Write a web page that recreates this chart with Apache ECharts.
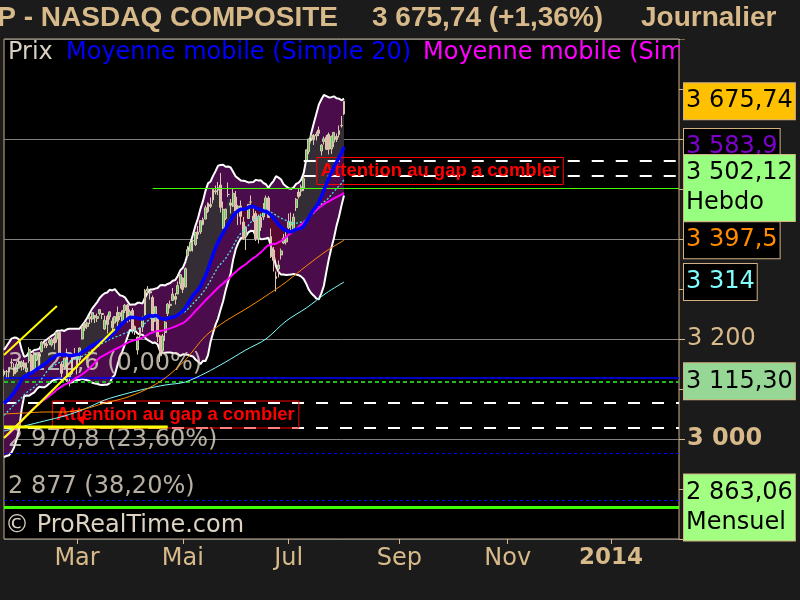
<!DOCTYPE html>
<html><head><meta charset="utf-8">
<script src="https://cdn.jsdelivr.net/npm/echarts/dist/echarts.min.js"></script>
<style>html,body{margin:0;padding:0;background:#1b1b1b;}#c{width:800px;height:600px;}</style>
</head><body><div id="c"></div>
<script>
// ---------- DATA ----------
const firstDay = '2013-01-17', lastDay = '2014-02-11';
const holidays = ['2013-01-21','2013-02-18','2013-03-29','2013-05-27','2013-07-04','2013-09-02','2013-11-28','2013-12-25','2014-01-01','2014-01-20'];
const tickMonths = {'2013-03':'Mar','2013-05':'Mai','2013-07':'Jul','2013-09':'Sep','2013-11':'Nov','2014-01':'2014'};

// closes before the visible window (Nov 1 2012 .. Jan 16 2013), used for the moving averages
const priorClose = [3020.06,2982.13,2999.66,3011.93,2937.29,2895.58,2904.87,2904.25,2883.89,2846.81,2836.94,2853.13,2916.07,2916.68,2926.55,2966.85,2976.78,2967.79,2991.78,3012.03,3010.24,
 3002.20,2996.69,2973.70,2989.27,2978.04,2986.96,3022.30,3013.81,2992.16,2971.33,3010.60,3054.53,3044.36,3050.39,3021.01,3012.60,2990.16,2985.91,2960.31,3019.51,
 3112.26,3100.57,3101.66,3098.81,3091.81,3105.81,3121.76,3125.63,3117.50,3110.78,3117.54];

// visible daily candles, Jan 17 2013 .. Aug 1 2013
const open = [3129,3134,3133.5,3152,3143.5,3135,3152,3145,3152,3135,
 3157,3168,3140,3158,3170,3175,3190,3190,3192,3188,3202,3200,3213,3150,3144,3172,3124,3131,3165,
 3143,3159,3200,3231,3225,3240,3240,3247,3241,3251,3251,3220,3245,3245,3236,3232,3253,3245,3236,3257,
 3268,3247,3257,3218,3178,3206,3224,3248,3296,3292,3283,3236,3245,3206,3177,3213,3251,3267,3277,3285,3290,3310,
 3322,3304,3367,3377,3397,3389,3414,3414,3429,3440,3455,3469,3478,3494,3498,3508,3422,3441,3489,3472,3466,3484,
 3458,3466,3434,3405,3441,3474,3446,3451,3400,3443,3444,3455,3482,3405,3378,3325,3340,3368,3392,3394,
 3423,3428,3418,3463,3494,3496,3502,3557,3575,3602,3607,3606,3618,3576,3595,3604,3609,3580,3594,3605,3609,3627,
 3650];
const high = [3139.4,3138,3143.2,3160.8,3151.5,3154.6,3163,3157,3158,3153,
 3183.7,3170,3174,3172,3173,3196,3194,3195,3206,3202,3205,3213.6,3214,3155,3162,3181,3131,3171,3182,
 3171,3183,3227,3233,3235,3248,3253,3248,3251,3259,3252,3247,3249,3256,3243,3245,3265,3253,3258,3270,
 3270,3259,3262,3227,3205,3223,3245,3300,3306,3295,3287,3265,3248,3208,3210,3236,3272,3277,3302,3292,3315,3329,
 3323,3343,3386,3395,3399,3414,3426,3437,3443,3467,3473,3483,3499,3507,3514,3532,3475,3461,3513,3480,3502,3496,
 3468,3477,3444,3425,3470,3487,3466,3456,3449,3451,3472,3487,3486,3421,3384,3335,3357,3381,3410,3418,
 3451,3453,3451,3482,3502,3509,3526,3578.5,3600.1,3611,3610,3615,3625,3590,3605,3608,3613,3607,3614,3611,3627,3646,
 3676];
const low = [3125.3,3120.4,3121.3,3143.3,3126,3133,3146,3137,3138,3133,
 3152,3130,3138,3156,3145,3173,3182,3182,3188,3185,3179,3193,3164,3120,3140,3116,3105,3128,3159,
 3129,3154,3199,3216,3220,3230,3233,3232,3234,3247,3240,3218,3211,3239,3218,3231,3225,3238,3234,3252,
 3233,3235,3211,3208,3169,3199,3214,3247,3290,3279,3216,3234,3194,3154,3175,3196,3246,3261,3276,3269,3290,3301,
 3292,3303,3365,3375,3375,3386,3400,3410,3427,3439,3452,3462,3471,3489,3488,3453,3420,3438,3484,3451,3464,3455,
 3428,3429,3398,3378,3440,3468,3434,3396,3391,3416,3438,3453,3442,3362,3335,3295,3323,3359,3390,3389,
 3420,3414,3416,3456,3481,3486,3496,3556,3570,3596,3588,3597,3606,3567,3589,3578,3569,3570,3584,3594,3603,3623,
 3648];
const close = [3136.00,3134.71,3143.18,3153.67,3130.38,3149.71,3154.30,3153.66,3142.31,3142.13,
 3179.10,3131.17,3171.58,3168.48,3165.13,3193.87,3192.00,3186.49,3196.88,3198.66,3192.03,3213.59,3164.41,3131.49,3161.82,3116.25,3129.65,3162.26,3160.19,
 3169.74,3182.03,3224.13,3222.37,3232.09,3244.37,3252.87,3242.32,3245.12,3258.93,3249.07,3237.59,3229.10,3254.19,3222.60,3245.00,3235.30,3252.48,3256.52,3267.52,
 3239.17,3254.86,3218.60,3224.98,3203.86,3222.25,3237.86,3297.25,3300.16,3294.95,3216.49,3264.63,3204.67,3166.36,3206.06,3233.55,3269.65,3269.33,3289.99,3279.26,3307.02,3328.79,
 3299.13,3340.62,3378.63,3392.97,3396.63,3413.27,3409.17,3436.58,3438.79,3462.61,3471.62,3465.24,3498.97,3496.43,3502.12,3463.30,3459.14,3459.42,3488.89,3467.52,3491.30,3455.91,
 3465.37,3445.26,3401.48,3424.05,3469.22,3473.77,3436.95,3400.43,3445.37,3423.56,3452.13,3482.18,3443.20,3364.64,3357.25,3320.76,3347.89,3376.22,3401.86,3403.25,
 3434.49,3433.40,3443.67,3479.38,3484.83,3504.26,3520.76,3578.30,3600.08,3607.49,3598.50,3610.00,3611.28,3587.61,3600.39,3579.27,3579.60,3605.19,3613.16,3599.14,3616.47,3626.37,
 3675.74];

// long moving averages (sample dates)
const maSampleDates = ['2013-01-17','2013-01-30','2013-02-11','2013-02-22','2013-03-06','2013-03-18','2013-03-28','2013-04-10','2013-04-22','2013-05-02','2013-05-14','2013-05-24','2013-06-06','2013-06-18','2013-06-28','2013-07-11','2013-07-23','2013-08-01'];
const ma100Values = [3050,3052,3054,3054,3060,3072,3082,3098,3122,3158,3206,3236,3260,3286,3314,3346,3376,3397.5];
const ma200Values = [3016,3026,3036,3046,3060,3078,3090,3100,3108,3114,3132,3154,3178,3200,3236,3262,3292,3314];

// levels & drawings
const fibValues = [3122.6, 2970.8, 2877];
const fibLabels = ['3 122,6 (0,00%)', '2 970,8 (23,60%)', '2 877 (38,20%)'];
const weeklyLevel = 3502.12, weeklyFrom = '2013-04-15';
const level3115 = 3115.30;
const monthlyLevel = 2863.06;
const gapUpper = [3556, 3526], gapUpperFrom = '2013-07-10';
const gapLower = [3073, 3023];
const gapText = 'Attention au gap a combler';
const gapNotes = [['2013-07-17', 3536], ['2013-02-14', 3049]];
const trendA = [['2013-01-17',3168],['2013-02-19',3266]];
const trendB = [['2013-01-17',3002],['2013-03-22',3220]];
const trendFlat = [['2013-01-17',3024],['2013-04-23',3024]];

// ---------- HELPERS ----------
function buildDays(from, to, hol){
  const out=[], h=new Set(hol);
  const a=from.split('-').map(Number), b=to.split('-').map(Number);
  let t=Date.UTC(a[0],a[1]-1,a[2]); const end=Date.UTC(b[0],b[1]-1,b[2]);
  while(t<=end){ const d=new Date(t), wd=d.getUTCDay(), s=d.toISOString().slice(0,10);
    if(wd!==0&&wd!==6&&!h.has(s)) out.push(s); t+=86400000; }
  return out;
}
function fr(v,d){ const s=v.toFixed(d).split('.'); const i=s[0].replace(/\B(?=(\d{3})+(?!\d))/g,' '); return s.length>1? i+','+s[1] : i; }

const days = buildDays(firstDay, lastDay, holidays);
const tickSet = new Set();
Object.keys(tickMonths).forEach(m=>{ const d=days.find(x=>x.slice(0,7)===m); if(d) tickSet.add(d); });

const allClose = priorClose.concat(close);
const P = priorClose.length;
function sma(n){ return close.map((_,k)=>{ const g=k+P; let s=0; for(let j=g-n+1;j<=g;j++) s+=allClose[j]; return s/n; }); }
const ma20 = sma(20), ma30 = sma(30), ma50 = sma(50);
const bbUp=[], bbLo=[];
close.forEach((_,k)=>{ const g=k+P; let s=0; for(let j=g-19;j<=g;j++) s+=(allClose[j]-ma20[k])**2; const sd=Math.sqrt(s/20); bbUp.push(ma20[k]+2*sd); bbLo.push(ma20[k]-2*sd); });
const fillBase = close.map((c,k)=>Math.min(c,ma20[k]));
const fillUp = close.map((c,k)=>c>ma20[k]? c-ma20[k] : 0);
const fillDown = close.map((c,k)=>c<ma20[k]? ma20[k]-c : 0);
const bbWidth = bbUp.map((u,k)=>u-bbLo[k]);
const candleData = open.map((o,k)=>[o, close[k], low[k], high[k]]);
const pairs = (vals)=>maSampleDates.map((d,i)=>[d, vals[i]]);
const idxOf = (pts)=>pts.map(p=>[days.indexOf(p[0]), p[1]]);

const last = close.length-1;
const pct = (close[last]-close[last-1])/close[last-1]*100;

// ---------- STYLE ----------
const BEIGE = '#d8b98a', BOXB = '#d2b283';
const FONT = '"DejaVu Sans", Verdana, sans-serif';
const TFONT = '"Liberation Sans", Arial, sans-serif';
const FIBTXT = 'rgba(222,214,198,0.82)';
const noLine = {opacity:0};
const hidden = {color:'rgba(0,0,0,0)', width:1};
function box(text, color, bg){
  return {show:true, position:'end', distance:5, formatter:text, color:color, backgroundColor:bg, borderColor:BOXB, borderWidth:1,
          padding:[3,2,3,2], fontSize:24, fontFamily:FONT, lineHeight:30};
}
function yellow(name, pts, w){
  return {name:name, type:'line', z:9, data:idxOf(pts), symbol:'none', silent:true, lineStyle:{color:'#ffff00', width:w}};
}

const chart = echarts.init(document.getElementById('c'));
const option = {
  backgroundColor:'#1b1b1b',
  animation:false,
  grid:{left:4, top:39, width:675, height:500, show:true, backgroundColor:'#000', borderColor:'#cfb083', borderWidth:1},
  xAxis:{type:'category', data:days, boundaryGap:false,
    axisLine:{show:false},
    axisTick:{show:true, interval:(i,v)=>tickSet.has(v), length:5, lineStyle:{color:BEIGE}},
    axisLabel:{interval:(i,v)=>tickSet.has(v), margin:8, color:BEIGE, fontSize:24, fontFamily:FONT,
      formatter:(v)=>{ const l=tickMonths[v.slice(0,7)]; return l==='2014' ? '{b|2014}' : l; },
      rich:{b:{fontWeight:'bold', fontSize:23, fontFamily:FONT, color:BEIGE}}},
    splitLine:{show:false}},
  yAxis:{type:'value', position:'right', min:2800, max:3800, interval:100,
    axisLine:{show:false},
    axisTick:{show:true, length:6, lineStyle:{color:BEIGE}},
    axisLabel:{margin:8, color:BEIGE, fontSize:24, fontFamily:FONT,
      formatter:(v)=> v===3200 ? '3 200' : (v===3000 ? '{b|3 000}' : ''),
      rich:{b:{fontWeight:'bold', fontSize:24, fontFamily:FONT, color:BEIGE}}},
    splitLine:{show:true, lineStyle:{color:['#808080','rgba(0,0,0,0)'], width:1}}},
  series:[
    {name:'bbLo', type:'line', z:1, data:bbLo, stack:'bb', symbol:'none', lineStyle:noLine, silent:true},
    {name:'bbBand', type:'line', z:1, data:bbWidth, stack:'bb', symbol:'none', lineStyle:noLine, areaStyle:{color:'#4b0c4b', opacity:1}, silent:true},
    {name:'fillBase', type:'line', z:2, data:fillBase, stack:'fill', symbol:'none', lineStyle:noLine, silent:true},
    {name:'fillUp', type:'line', z:2, data:fillUp, stack:'fill', symbol:'none', lineStyle:noLine, areaStyle:{color:'#352d35', opacity:1}, silent:true},
    {name:'fillDown', type:'line', z:2, data:fillDown, stack:'fill', symbol:'none', lineStyle:noLine, areaStyle:{color:'#5a0a30', opacity:1}, silent:true},
    {name:'bbUpLine', type:'line', z:3, data:bbUp, symbol:'none', lineStyle:{color:'#ffffff', width:2}, silent:true},
    {name:'bbLoLine', type:'line', z:3, data:bbLo, symbol:'none', lineStyle:{color:'#ffffff', width:2}, silent:true},
    {name:'Prix', type:'candlestick', z:4, data:candleData, barWidth:2.4,
      itemStyle:{color:'#55cc55', color0:'#e8b4aa', borderColor:'#d8c8b0', borderColor0:'#d8c8b0', borderWidth:1}},
    {name:'MA200', type:'line', z:5, data:pairs(ma200Values), symbol:'none', smooth:0.3, lineStyle:{color:'#80ffff', width:1}},
    {name:'MA100', type:'line', z:5, data:pairs(ma100Values), symbol:'none', smooth:0.3, lineStyle:{color:'#ff8c00', width:1}},
    {name:'MA30', type:'line', z:5, data:ma30, symbol:'none', lineStyle:{color:'#40e8e8', width:1.3, type:[2,2]}},
    {name:'MA50', type:'line', z:5, data:ma50, symbol:'none', lineStyle:{color:'#ff00ff', width:2}},
    {name:'MA20', type:'line', z:5, data:ma20, symbol:'none', lineStyle:{color:'#0000ff', width:3.5}},
    {name:'drawings', type:'line', z:6, data:[], silent:true,
      markLine:{silent:true, symbol:['none','none'], animation:false, label:{show:false},
        data:[
          ...fibValues.map((v,i)=>({yAxis:v, lineStyle:{color:'#0000ff', width:i===0?1.5:1, type:i===0?'solid':[3,3]},
              label:{show:true, position:'insideStartTop', distance:[4,2], formatter:fibLabels[i], color:FIBTXT, fontSize:24, fontFamily:FONT}})),
          ...gapLower.map(v=>({yAxis:v, lineStyle:{color:'#ffffff', width:2, type:[12,12]}})),
          ...gapUpper.map(v=>[{coord:[gapUpperFrom, v], lineStyle:{color:'#ffffff', width:2, type:[12,12]}}, {coord:[lastDay, v]}])
        ]},
      markPoint:{silent:true, animation:false,
        data:[
          ...gapNotes.map(n=>({coord:n, symbol:'rect', symbolSize:1, itemStyle:{color:'rgba(0,0,0,0)'},
            label:{show:true, position:'right', distance:0, formatter:gapText, color:'#ff0000', fontWeight:'bold', fontSize:18.5,
              fontFamily:TFONT, borderColor:'#ff0000', borderWidth:1, padding:[3,4,4,4], lineHeight:20}})),
          {coord:['2013-03-05', 3036], symbol:'triangle', symbolSize:[8,9], symbolRotate:200, itemStyle:{color:'#ff0000'}, label:{show:false}}
        ]}},
    yellow('trendA', trendA, 2),
    yellow('trendB', trendB, 2.2),
    yellow('trendFlat', trendFlat, 3),
    {name:'boxLow', type:'line', z:10, data:[], clip:false, silent:true,
      markLine:{silent:true, symbol:['none','none'], animation:false,
        data:[
          {yAxis:ma20[last], lineStyle:hidden, label:box(fr(ma20[last],1), '#7f00cc', '#000')},
          {yAxis:ma100Values[ma100Values.length-1], lineStyle:hidden, label:box(fr(ma100Values[ma100Values.length-1],1), '#ff8c00', '#000')},
          {yAxis:ma200Values[ma200Values.length-1], lineStyle:hidden, label:box(fr(ma200Values[ma200Values.length-1],0), '#80ffff', '#000')},
          {yAxis:close[last], lineStyle:hidden, label:box(fr(close[last],2), '#000', '#ffc000')}
        ]}},
    {name:'boxHigh', type:'line', z:11, data:[], clip:false, silent:true,
      markLine:{silent:true, symbol:['none','none'], animation:false,
        data:[
          [{coord:[weeklyFrom, weeklyLevel], lineStyle:{color:'#40ff00', width:1, type:'solid'}, label:box(fr(weeklyLevel,2)+'\nHebdo', '#000', '#99ff80')}, {coord:[lastDay, weeklyLevel]}],
          {yAxis:level3115, lineStyle:{color:'#22bb22', width:2, type:[4,3]}, label:box(fr(level3115,2), '#000', '#96d796')},
          {yAxis:monthlyLevel, lineStyle:{color:'#40ff00', width:3, type:'solid'}, label:box(fr(monthlyLevel,2)+'\nMensuel', '#000', '#a2ff82')}
        ]}}
  ],
  graphic:[
    {type:'text', x:338, y:18, z:100, style:{text:'COMP - NASDAQ COMPOSITE', fill:BEIGE, font:'bold 28px '+TFONT, align:'right', textAlign:'right', verticalAlign:'middle', textVerticalAlign:'middle'}},
    {type:'text', x:372, y:18, z:100, style:{text:fr(close[last],2)+' (+'+fr(pct,2)+'%)', fill:BEIGE, font:'bold 28px '+TFONT, align:'left', verticalAlign:'middle', textVerticalAlign:'middle'}},
    {type:'text', x:641, y:18, z:100, style:{text:'Journalier', fill:BEIGE, font:'bold 28px '+TFONT, align:'left', verticalAlign:'middle', textVerticalAlign:'middle'}},
    {type:'text', x:8, y:53, z:100, style:{text:'Prix', fill:'#d8d0c0', font:'24px '+FONT, verticalAlign:'middle', textVerticalAlign:'middle'}},
    {type:'text', x:66, y:53, z:100, style:{text:'Moyenne mobile (Simple 20)', fill:'#0000ff', font:'24px '+FONT, verticalAlign:'middle', textVerticalAlign:'middle'}},
    {type:'text', x:423, y:53, z:100, style:{text:'Moyenne mobile (Simple 50)', fill:'#ff00ff', font:'24px '+FONT, verticalAlign:'middle', textVerticalAlign:'middle'}},
    {type:'rect', z:101, shape:{x:680, y:39.5, width:120, height:38}, style:{fill:'#1b1b1b'}},
    {type:'text', x:5, y:526, z:100, style:{text:'© ProRealTime.com', fill:'#dcd3c2', font:'24px '+FONT, verticalAlign:'middle', textVerticalAlign:'middle'}}
  ]
};
chart.setOption(option);
</script></body></html>
